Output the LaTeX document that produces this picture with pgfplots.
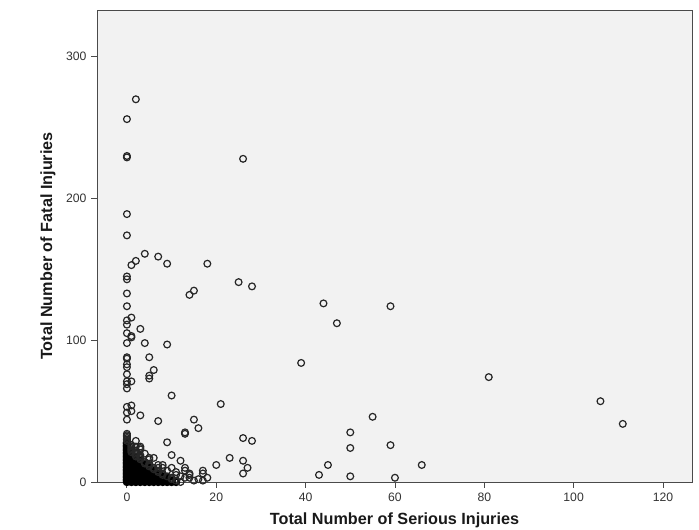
\documentclass[border=0pt]{standalone}
\usepackage{fontspec}
\setmainfont{Liberation Sans}
\usepackage{pgfplots}
\pgfplotsset{compat=1.18}
\definecolor{bgc}{HTML}{F2F2F2}
\definecolor{axc}{HTML}{4A4A4A}
\definecolor{tkc}{HTML}{333333}
\begin{document}
\begin{tikzpicture}[x=1bp,y=1bp]
\useasboundingbox (0,0) rectangle (699,530);
\begin{axis}[
  at={(97bp,48bp)}, anchor=south west,
  scale only axis, width=595bp, height=472bp,
  xmin=-6.7, xmax=126.5, ymin=0, ymax=333,
  xtick={0,20,40,60,80,100,120},
  ytick={0,100,200,300},
  tick pos=left, tick align=outside,
  major tick length=6bp,
  axis line style={axc, line width=0.9bp},
  every tick/.style={axc, line width=0.9bp},
  axis background/.style={fill=bgc},
  /pgf/number format/assume math mode=true,
  ticklabel style={font=\fontsize{12.2bp}{14bp}\selectfont, text=tkc},
  xticklabel style={yshift=-1bp},
  yticklabel style={xshift=-1bp},
  xlabel={Total Number of Serious Injuries},
  ylabel={Total Number of Fatal Injuries},
  label style={font=\bfseries\fontsize{16.2bp}{18bp}\selectfont, text=black!90},
  xlabel style={at={(axis description cs:0.5,0)}, anchor=base, yshift=-43bp},
  ylabel style={at={(axis description cs:-0.0824,0.5)}, anchor=center},
]
% dense core of the cluster (drawn as a black mass, as in the reference)
\addplot[only marks, mark=o, mark size=3.2bp, mark options={draw=black, line width=1.9bp}] coordinates {
(0,0)(0,1)(0,2)(0,3)(0,4)(0,5)(0,6)(0,7)(0,8)(0,9)(0,10)(0,11)(0,12)(0,13)(0,14)(0,15)(0,16)(0,17)(0,18)(0,19)(0,20)(0,21)(0,22)(0,23)(0,24)(0,25)(0,26)(0,27)(0,28)
(1,0)(1,1)(1,2)(1,3)(1,4)(1,5)(1,6)(1,7)(1,8)(1,9)(1,10)(1,11)(1,12)(1,13)(1,14)(1,15)(1,16)(1,17)(1,18)(1,19)(1,20)
(2,0)(2,1)(2,2)(2,3)(2,4)(2,5)(2,6)(2,7)(2,8)(2,9)(2,10)(2,11)(2,12)(2,13)(2,14)(2,15)(2,16)(2,17)
(3,0)(3,1)(3,2)(3,3)(3,4)(3,5)(3,6)(3,7)(3,8)(3,9)(3,10)(3,11)(3,12)(3,13)(3,14)(3,15)
(4,0)(4,1)(4,2)(4,3)(4,4)(4,5)(4,6)(4,7)(4,8)(4,9)(4,10)(4,11)(4,12)
(5,0)(5,1)(5,2)(5,3)(5,4)(5,5)(5,6)(5,7)(5,8)(5,9)(5,10)
(6,0)(6,1)(6,2)(6,3)(6,4)(6,5)(6,6)(6,7)(6,8)
(7,0)(7,1)(7,2)(7,3)(7,4)(7,5)(7,6)
(8,0)(8,1)(8,2)(8,3)(8,4)
(9,0)(9,1)(9,2)(9,3)
(10,0)(10,1)
(11,0)
};
\addplot[only marks, mark=o, mark size=3.4bp, mark options={draw=black!85, line width=1.2bp}] coordinates {
(0,29)(0,30)(0,31)(0,32)(0,33)(0,34)
(1,21)(1,22)(1,23)(1,24)(1,25)(1,26)
(2,18)(2,19)(2,20)(2,21)(2,22)
(3,16)(3,17)(3,19)
(4,13)(4,14)
(5,11)(5,12)(5,13)
(6,9)(6,10)
(7,7)(7,8)
(8,5)(8,6)
(9,4)
(10,2)
(11,1)
(12,0)
(2,270)(0,256)(0,230)(0,229)(26,228)(0,189)(0,174)(4,161)(2,156)(1,153)(7,159)(9,154)(18,154)
(0,145)(0,143)(25,141)(28,138)(15,135)(14,132)(0,133)(44,126)(59,124)(47,112)(0,124)(0,114)
(1,116)(0,111)(0,105)(1,103)(1,102)(3,108)(0,98)(4,98)(9,97)(0,88)(0,87)(5,88)(0,83)(0,81)
(0,76)(6,79)(5,75)(5,73)(0,71)(0,69)(0,66)(1,71)(39,84)(81,74)(106,57)(111,41)(10,61)(21,55)
(0,53)(1,54)(0,49)(1,50)(3,47)(0,44)(7,43)(15,44)(16,38)(55,46)(13,35)(13,34)(26,31)(28,29)
(9,28)(50,35)(50,24)(59,26)(45,12)(66,12)(43,5)(50,4)(60,3)(10,19)(12,15)(23,17)(20,12)(26,15)
(27,10)(26,6)(17,8)(17,6)(18,3)(13,10)(13,8)(14,6)(13,3)(2,29)(3,25)(3,24)(3,23)(3,18)(6,17)
(5,17)(5,16)(8,12)(8,10)(7,12)(7,10)(11,5)(14,5)(12,4)(14,3)(10,3)(10,10)(16,2)(17,1)(15,1)
(11,7)(9,8)(4,20)(2,25)
};
\end{axis}
\end{tikzpicture}
\end{document}
